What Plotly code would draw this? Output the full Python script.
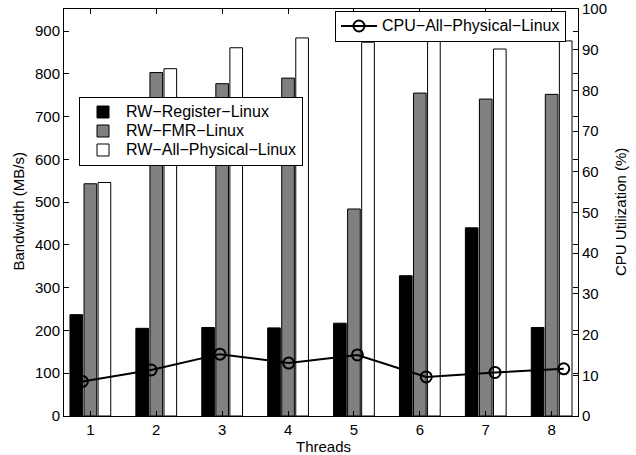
import plotly.graph_objects as go

threads = [1, 2, 3, 4, 5, 6, 7, 8]
rw_register = [237, 205, 207, 206, 217, 328, 440, 207]
rw_fmr = [543, 803, 777, 790, 484, 755, 741, 752]
rw_all_physical = [546, 812, 861, 884, 874, 877, 858, 877]
cpu_all_physical = [8.5, 11.3, 15.2, 13.0, 15.0, 9.6, 10.7, 11.6]

FONT = "Liberation Sans, Arial, Helvetica, sans-serif"
TF = dict(family=FONT, size=15, color="black")


def lg(name):
    # larger text inside a compact legend row
    return '<span style="font-size:16px">' + name + '</span>'


fig = go.Figure()
fig.add_trace(go.Bar(x=threads, y=rw_register, name=lg("RW−Register−Linux"),
                     marker=dict(color="black", line=dict(color="black", width=1)),
                     legend="legend"))
fig.add_trace(go.Bar(x=threads, y=rw_fmr, name=lg("RW−FMR−Linux"),
                     marker=dict(color="#808080", line=dict(color="black", width=1)),
                     legend="legend"))
fig.add_trace(go.Bar(x=threads, y=rw_all_physical, name=lg("RW−All−Physical−Linux"),
                     marker=dict(color="white", line=dict(color="black", width=1)),
                     legend="legend"))
fig.add_trace(go.Scatter(x=threads, y=cpu_all_physical, name=lg("CPU−All−Physical−Linux"),
                         mode="lines+markers", xaxis="x2", yaxis="y2",
                         line=dict(color="black", width=2),
                         marker=dict(symbol="circle-open", size=11, color="black",
                                     line=dict(width=2, color="black")),
                         legend="legend2"))

axis_common = dict(showline=True, linecolor="black", linewidth=1, ticks="inside",
                   ticklen=5, tickcolor="black", showgrid=False, zeroline=False,
                   automargin=False, tickfont=TF)

L, R, T, B = 64, 58, 9, 39
pw, ph = 636 - L - R, 455 - T - B


def px_x(x):
    return (x - L) / pw


def px_y(y):
    return (455 - B - y) / ph


fig.update_layout(
    width=636, height=455,
    margin=dict(l=L, r=R, t=T, b=B, autoexpand=False),
    paper_bgcolor="white", plot_bgcolor="white",
    barmode="group", bargap=0.36, bargroupgap=0.1,
    font=TF,
    xaxis=dict(range=[0.6, 8.4], tickvals=threads, mirror="ticks", **axis_common),
    yaxis=dict(range=[0, 951.6], tickvals=list(range(0, 1000, 100)), mirror="ticks",
               **axis_common),
    xaxis2=dict(range=[0.733, 8.207], overlaying="x", visible=False),
    yaxis2=dict(range=[0, 100], overlaying="y", side="right",
                tickvals=list(range(0, 101, 10)), **axis_common),
    legend=dict(x=px_x(79), y=px_y(131), xanchor="left", yanchor="middle",
                bgcolor="white", bordercolor="black", borderwidth=1,
                font=dict(family=FONT, size=12, color="black"),
                tracegroupgap=0, itemwidth=36),
    legend2=dict(x=px_x(566), y=px_y(26), xanchor="right", yanchor="middle",
                 bgcolor="white", bordercolor="black", borderwidth=1,
                 font=dict(family=FONT, size=12, color="black"),
                 itemwidth=36),
    annotations=[
        dict(text="Threads", x=px_x(323), y=px_y(446), xref="paper", yref="paper",
             showarrow=False, font=TF, xanchor="center", yanchor="middle"),
        dict(text="Bandwidth (MB/s)", x=px_x(18.5), y=px_y(212), xref="paper",
             yref="paper", showarrow=False, font=TF, textangle=-90,
             xanchor="center", yanchor="middle"),
        dict(text="CPU Utilization (%)", x=px_x(621), y=px_y(212), xref="paper",
             yref="paper", showarrow=False, font=TF, textangle=-90,
             xanchor="center", yanchor="middle"),
    ],
)

fig.write_html("out.html")
